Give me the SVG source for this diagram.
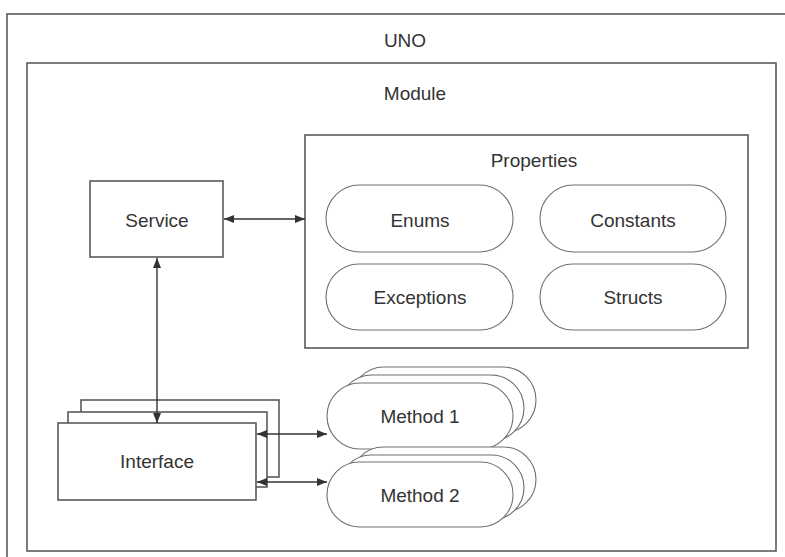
<svg xmlns="http://www.w3.org/2000/svg" width="785" height="557" viewBox="0 0 785 557">
  <defs>
    <style>
      .box { fill: #ffffff; stroke: #5a5a5a; stroke-width: 1.6; }
      .frame { fill: none; stroke: #5a5a5a; stroke-width: 1.6; }
      .pill { fill: #ffffff; stroke: #707070; stroke-width: 1.1; }
      .lbl { font-family: "Liberation Sans", Arial, sans-serif; font-size: 19px; fill: #333333; text-anchor: middle; }
      .link { fill: none; stroke: #333333; stroke-width: 1.4; marker-start: url(#arrow); marker-end: url(#arrow); }
    </style>
    <marker id="arrow" viewBox="0 0 10 8" refX="10" refY="4" markerWidth="10" markerHeight="8" markerUnits="userSpaceOnUse" orient="auto-start-reverse">
      <path d="M0,0 L10,4 L0,8 z" fill="#333333"/>
    </marker>
  </defs>

  <rect width="785" height="557" fill="#ffffff"/>

  <!-- UNO container -->
  <g id="uno">
    <rect class="frame" x="7" y="14" width="800" height="560"/>
    <text class="lbl" x="405" y="47">UNO</text>
  </g>

  <!-- Module container -->
  <g id="module">
    <rect class="frame" x="27" y="63" width="749" height="488"/>
    <text class="lbl" x="415" y="100">Module</text>
  </g>

  <!-- Service -->
  <g id="service">
    <rect class="box" x="90" y="181" width="133" height="76"/>
    <text class="lbl" x="157" y="227">Service</text>
  </g>

  <!-- Properties group -->
  <g id="properties">
    <rect class="box" x="305" y="135" width="443" height="213"/>
    <text class="lbl" x="534" y="167">Properties</text>
  </g>
  <g id="enums">
    <rect class="pill" x="326" y="185" width="187" height="67" rx="33.5"/>
    <text class="lbl" x="420" y="227">Enums</text>
  </g>
  <g id="constants">
    <rect class="pill" x="540" y="185" width="186" height="67" rx="33.5"/>
    <text class="lbl" x="633" y="227">Constants</text>
  </g>
  <g id="exceptions">
    <rect class="pill" x="326" y="264" width="187" height="66" rx="33"/>
    <text class="lbl" x="420" y="304">Exceptions</text>
  </g>
  <g id="structs">
    <rect class="pill" x="540" y="264" width="186" height="66" rx="33"/>
    <text class="lbl" x="633" y="304">Structs</text>
  </g>

  <!-- Interface (stacked) -->
  <g id="interface">
    <rect class="box" x="81" y="400" width="198" height="77"/>
    <rect class="box" x="68" y="412" width="199" height="75"/>
    <rect class="box" x="58" y="423" width="198" height="77"/>
    <text class="lbl" x="157" y="468">Interface</text>
  </g>

  <!-- Method 1 (stacked) -->
  <g id="method1">
    <rect class="pill" x="351" y="367" width="185" height="66" rx="33"/>
    <rect class="pill" x="339" y="375" width="185" height="66" rx="33"/>
    <rect class="pill" x="327" y="383" width="186" height="66" rx="33"/>
    <text class="lbl" x="420" y="423">Method 1</text>
  </g>

  <!-- Method 2 (stacked) -->
  <g id="method2">
    <rect class="pill" x="351" y="447" width="185" height="65" rx="32.5"/>
    <rect class="pill" x="339" y="455" width="185" height="65" rx="32.5"/>
    <rect class="pill" x="327" y="462" width="186" height="65" rx="32.5"/>
    <text class="lbl" x="420" y="502">Method 2</text>
  </g>

  <!-- Connectors -->
  <g id="connectors">
    <line class="link" x1="224" y1="219" x2="305" y2="219"/>
    <line class="link" x1="157" y1="258" x2="157" y2="423"/>
    <line class="link" x1="257" y1="434" x2="327" y2="434"/>
    <line class="link" x1="257" y1="482" x2="327" y2="482"/>
  </g>
</svg>
